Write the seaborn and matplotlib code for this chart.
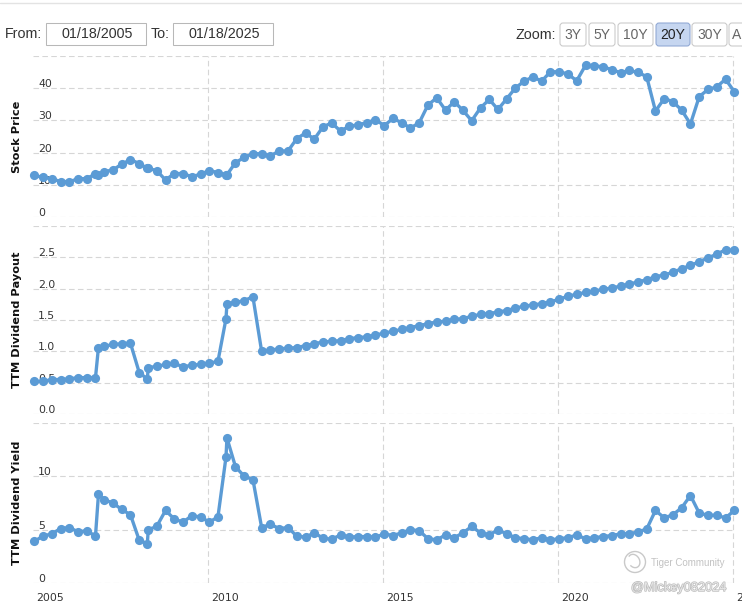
import matplotlib
matplotlib.use("Agg")
import matplotlib.pyplot as plt
import matplotlib.transforms as mtransforms
import matplotlib.patheffects as pe
from matplotlib.patches import FancyBboxPatch, Circle, Arc
from matplotlib.lines import Line2D
import pandas as pd
import seaborn as sns

# ---------------- data ----------------
dates = [
    "2005-01-15", "2005-04-15", "2005-07-15", "2005-10-15", "2006-01-15", "2006-04-15",
    "2006-07-15", "2006-10-15", "2006-11-15", "2007-01-15", "2007-04-15", "2007-07-15",
    "2007-10-15", "2008-01-15", "2008-04-08", "2008-04-18", "2008-07-15", "2008-10-15",
    "2009-01-15", "2009-04-15", "2009-07-15", "2009-10-15", "2010-01-15", "2010-04-15",
    "2010-07-08", "2010-07-18", "2010-10-15", "2011-01-15", "2011-04-15", "2011-07-15",
    "2011-10-15", "2012-01-15", "2012-04-15", "2012-07-15", "2012-10-15", "2013-01-15",
    "2013-04-15", "2013-07-15", "2013-10-15", "2014-01-15", "2014-04-15", "2014-07-15",
    "2014-10-15",
    "2015-01-15", "2015-04-15", "2015-07-15", "2015-10-15", "2016-01-15", "2016-04-15",
    "2016-07-15", "2016-10-15", "2017-01-15", "2017-04-15", "2017-07-15", "2017-10-15",
    "2018-01-15", "2018-04-15", "2018-07-15", "2018-10-15", "2019-01-15", "2019-04-15",
    "2019-07-15", "2019-10-15", "2020-01-15", "2020-04-15", "2020-07-15", "2020-10-15",
    "2021-01-15", "2021-04-15", "2021-07-15", "2021-10-15", "2022-01-15", "2022-04-15",
    "2022-07-15", "2022-10-15", "2023-01-15", "2023-04-15", "2023-07-15", "2023-10-15",
    "2024-01-15", "2024-04-15", "2024-07-15", "2024-10-15", "2025-01-15",
]

stock_price = [
    12.9, 12.3, 11.9, 11.0, 10.9, 11.9, 11.9, 13.4, 12.9, 14.1, 14.6, 16.4, 17.8, 16.6,
    15.1, 15.1, 14.4, 11.5, 13.5, 13.5, 12.5, 13.3, 14.4, 13.8, 13.1, 13.1, 16.9, 18.5,
    19.7, 19.6, 19.0, 20.5, 20.5, 24.3, 26.1, 24.2, 28.0, 29.2, 26.7, 28.2, 28.6, 29.3,
    30.2,
    28.4, 30.6, 29.3, 27.6, 29.3, 34.8, 37.0, 33.2, 35.8, 33.1, 29.9, 33.9, 36.5, 33.4,
    36.7, 40.1, 42.2, 43.5, 42.2, 45.1, 45.1, 44.4, 42.3, 47.1, 47.0, 46.6, 45.8, 44.8,
    45.5, 44.9, 43.6, 32.9, 36.8, 35.8, 33.2, 28.9, 37.4, 39.6, 40.4, 42.8, 38.9,
]

dividend_payout = [
    0.52, 0.52, 0.55, 0.55, 0.56, 0.58, 0.58, 0.58, 1.06, 1.08, 1.11, 1.12, 1.13, 0.66,
    0.56, 0.74, 0.76, 0.79, 0.81, 0.75, 0.78, 0.79, 0.81, 0.84, 1.52, 1.76, 1.78, 1.81,
    1.87, 1.00, 1.02, 1.04, 1.05, 1.06, 1.09, 1.12, 1.15, 1.16, 1.17, 1.20, 1.22, 1.23,
    1.26,
    1.29, 1.32, 1.35, 1.38, 1.41, 1.44, 1.47, 1.48, 1.51, 1.52, 1.56, 1.59, 1.60, 1.63,
    1.65, 1.69, 1.72, 1.74, 1.76, 1.79, 1.83, 1.88, 1.91, 1.94, 1.96, 1.99, 2.01, 2.04,
    2.07, 2.11, 2.14, 2.19, 2.22, 2.26, 2.32, 2.37, 2.43, 2.49, 2.55, 2.62, 2.61,
]

dividend_yield = [
    3.9, 4.4, 4.6, 5.1, 5.2, 4.8, 4.9, 4.4, 8.3, 7.8, 7.5, 6.9, 6.4, 4.0,
    3.7, 5.0, 5.3, 6.8, 6.0, 5.7, 6.3, 6.2, 5.7, 6.2, 11.8, 13.6, 10.9, 10.0,
    9.7, 5.2, 5.5, 5.1, 5.2, 4.4, 4.3, 4.7, 4.2, 4.1, 4.5, 4.3, 4.35, 4.35,
    4.3,
    4.6, 4.45, 4.7, 5.0, 4.9, 4.15, 4.05, 4.5, 4.25, 4.7, 5.3, 4.7, 4.5, 5.0,
    4.6, 4.25, 4.15, 4.05, 4.25, 4.05, 4.15, 4.25, 4.5, 4.15, 4.25, 4.35, 4.45, 4.6,
    4.6, 4.8, 5.05, 6.8, 6.1, 6.4, 7.05, 8.2, 6.55, 6.35, 6.35, 6.1, 6.8,
]

panel_titles = ["Stock Price", "TTM Dividend Payout", "TTM Dividend Yield"]
price_ticks = [0, 10, 20, 30, 40, 50]
payout_ticks = [0.0, 0.5, 1.0, 1.5, 2.0, 2.5, 3.0]
yield_ticks = [0, 5, 10, 15]
year_ticks = ["2005", "2010", "2015", "2020", "2025"]
range_from, range_to = "01/18/2005", "01/18/2025"
zoom_buttons = ["3Y", "5Y", "10Y", "20Y", "30Y", "A"]
active_button = "20Y"

# ---------------- figure ----------------
sns.set_style("white")
plt.rcParams["font.family"] = ["DejaVu Sans"]

W, H = 742, 603
fig = plt.figure(figsize=(W / 100, H / 100), dpi=100)
fig.patch.set_facecolor("white")
PIX = mtransforms.IdentityTransform()

BLUE = "#5b9bd5"
GRID = "#d6d6d6"

df = pd.DataFrame({
    "date": pd.to_datetime(dates),
    "price": stock_price,
    "payout": dividend_payout,
    "yield": dividend_yield,
})

x_start = pd.Timestamp("2005-01-01")
x_end = pd.Timestamp("2025-01-18")
px_per_year = 35.0
width_px = (x_end - x_start).days / 365.25 * px_per_year
left_px = 33

panels = [
    ("price", 56, 217, price_ticks, lambda v: f"{v:g}"),
    ("payout", 226, 414, payout_ticks, lambda v: f"{v:.1f}"),
    ("yield", 423, 583, yield_ticks, lambda v: f"{v:g}"),
]

axes = []
for i, (col, top, bot, ticks, fmt) in enumerate(panels):
    ax = fig.add_axes([left_px / W, 1 - bot / H, width_px / W, (bot - top) / H])
    ax.set_facecolor("none")
    sns.lineplot(data=df, x="date", y=col, ax=ax, color=BLUE, linewidth=2.4,
                 marker="o", markersize=6.6, markeredgewidth=0, errorbar=None,
                 estimator=None, sort=False, zorder=3)
    for ln in ax.lines:
        ln.set_clip_on(False)
    ax.set_xlim(x_start, x_end)
    ax.set_ylim(ticks[0], ticks[-1])
    labels = [fmt(t) for t in ticks[:-1]] + [""]
    ax.set_yticks(ticks, labels, ha="left", va="baseline")
    ax.tick_params(axis="y", length=0, pad=-3.6, labelsize=7.8, labelcolor="#333333")
    off = mtransforms.ScaledTranslation(0, 1 / 100, fig.dpi_scale_trans)
    for lbl in ax.get_yticklabels():
        lbl.set_transform(lbl.get_transform() + off)
    ax.grid(True, axis="y", color=GRID, linestyle=(0, (5, 3)), linewidth=0.8)
    for y in year_ticks[1:]:
        ax.axvline(pd.Timestamp(f"{y}-01-01"), color=GRID, linestyle=(0, (5, 3)),
                   linewidth=0.8, zorder=1)
    xt = [pd.Timestamp(f"{y}-01-01") for y in year_ticks]
    if i == 2:
        ax.set_xticks(xt, year_ticks, ha="left")
        ax.tick_params(axis="x", length=0, pad=7, labelsize=7.8, labelcolor="#333333")
        offx = mtransforms.ScaledTranslation(3 / 100, 0, fig.dpi_scale_trans)
        for lbl in ax.get_xticklabels():
            lbl.set_transform(lbl.get_transform() + offx)
            lbl.set_clip_on(False)
    else:
        ax.set_xticks(xt, [""] * len(xt))
        ax.tick_params(axis="x", length=0)
    ax.set_xlabel("")
    ax.set_ylabel("")
    for s in ax.spines.values():
        s.set_visible(False)
    fig.text(17 / W, 1 - (top + bot) / 2 / H, panel_titles[i], rotation=90,
             ha="center", va="center", fontsize=8.2, fontweight="bold", color="#111111")
    axes.append(ax)

# ---------------- header ----------------
def box(x0, y0, x1, y1, fc, ec, r=0.0, lw=0.75):
    style = f"round,pad=0,rounding_size={r}" if r else "square,pad=0"
    p = FancyBboxPatch((x0, H - y1), x1 - x0, y1 - y0, boxstyle=style,
                       fc=fc, ec=ec, lw=lw, transform=PIX)
    fig.add_artist(p)

def htext(x, y, s, ha="left", color="#333333", size=10.3):
    fig.text(x / W, 1 - y / H, s, ha=ha, va="center", color=color,
             fontsize=size, family=["Liberation Sans", "DejaVu Sans"])

fig.add_artist(Line2D([0, 1], [1 - 2.5 / H, 1 - 2.5 / H], color="#e3e3e3", lw=1.0,
                      transform=fig.transFigure))

htext(5, 34.5, "From:")
box(46, 23, 146, 45, "white", "#b8b8b8")
htext(97, 34.5, range_from, ha="center")
htext(151, 34.5, "To:")
box(173, 23, 273, 45, "white", "#b8b8b8")
htext(224, 34.5, range_to, ha="center")
htext(516, 35, "Zoom:")

btn_x = [(560, 586), (589, 615), (618, 653), (656, 690), (692, 727), (729, 760)]
for name, (bx0, bx1) in zip(zoom_buttons, btn_x):
    active = name == active_button
    box(bx0, 23, bx1, 46, "#c6d6f0" if active else "white",
        "#8ea6d3" if active else "#c8c8c8", r=3)
    htext((bx0 + bx1) / 2 if name != "A" else bx0 + 3, 35, name,
          ha="center" if name != "A" else "left",
          color="#222222" if active else "#666666", size=10.0)

# ---------------- watermark ----------------
fig.add_artist(Circle((635, H - 562), 10.5, fill=False, ec="#c9c9c9", lw=1.0,
                      transform=PIX))
fig.add_artist(Arc((634, H - 561), 11, 14, angle=30, theta1=200, theta2=470,
                   ec="#c9c9c9", lw=1.0, transform=PIX))
fig.text(651 / W, 1 - 563 / H, "Tiger Community", ha="left", va="center",
         color="#c2c2c2", fontsize=7.0, family=["Liberation Sans", "DejaVu Sans"])
fig.text(631 / W, 1 - 588 / H, "@Mickey082024", ha="left", va="center",
         color="#e6e6e6", fontsize=9.2, family=["Liberation Sans", "DejaVu Sans"],
         path_effects=[pe.withStroke(linewidth=1.0, foreground="#bdbdbd")])

fig.savefig("out.png", dpi=100, facecolor="white")
